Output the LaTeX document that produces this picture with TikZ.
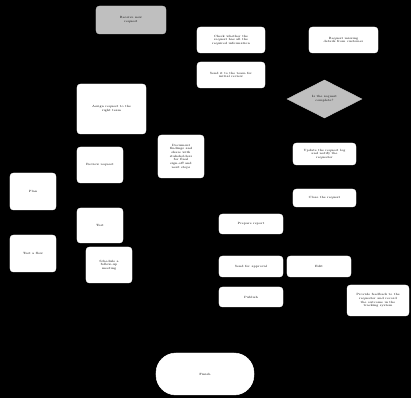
\documentclass[tikz,border=0pt]{standalone}
\usetikzlibrary{shapes.geometric}

\begin{document}
\begin{tikzpicture}[
    x=0.03cm, y=-0.03cm,
    box/.style={rectangle, draw=white, fill=white, rounded corners=3pt, align=center, inner sep=1pt, text=black, font=\fontsize{2.6}{3.1}\selectfont},
    grainy/.style={box, fill=white!75!black, draw=white!75!black},
    choice/.style={diamond, draw=white!75!black, fill=white!75!black, align=center, inner sep=0pt, text=black, font=\fontsize{2.6}{3.1}\selectfont},
    stop/.style={box, rounded corners=0.6cm}
]

% Background
\fill[black] (0,0) rectangle (411,398);
\useasboundingbox (0,0) rectangle (411,398);

% Top row
\node[grainy, minimum width=2.1cm, minimum height=0.84cm] (start) at (131,20) {Receive new\\request};
\node[box, minimum width=2.04cm, minimum height=0.78cm] (check) at (231,40) {Check whether the\\request has all the\\required information};
\node[box, minimum width=2.07cm, minimum height=0.78cm] (missing) at (343.5,40) {Request missing\\details from customer};
\node[box, minimum width=2.04cm, minimum height=0.78cm] (send) at (231,75) {Send it to the team for\\initial review};

% Decision
\node[choice, minimum width=2.25cm, minimum height=1.14cm] (complete) at (324.5,99) {Is the request\\complete?};

% Middle
\node[box, minimum width=2.07cm, minimum height=1.5cm] (assign) at (111.5,109) {Assign request to the\\right team};
\node[box, minimum width=1.38cm, minimum height=1.08cm] (review) at (100,165) {Review request};
\node[box, minimum width=1.38cm, minimum height=1.29cm] (findings) at (181,156.5) {Document\\findings and\\share with\\stakeholders\\for final\\sign-off and\\next steps};
\node[box, minimum width=1.89cm, minimum height=0.66cm] (update) at (324.5,154) {Update the request log\\and notify the\\requester};
\node[box, minimum width=1.89cm, minimum height=0.54cm] (close) at (324.5,198) {Close the request};

% Left column
\node[box, minimum width=1.38cm, minimum height=1.11cm] (plan) at (33,191.5) {Plan};
\node[box, minimum width=1.38cm, minimum height=1.11cm] (flow) at (33,253.5) {Test a flow};
\node[box, minimum width=1.38cm, minimum height=1.05cm] (test) at (100,225.5) {Test};
\node[box, minimum width=1.38cm, minimum height=1.08cm] (meeting) at (109,265) {Schedule a\\follow-up\\meeting};

% Lower right
\node[box, minimum width=1.92cm, minimum height=0.6cm] (report) at (251,224) {Prepare report};
\node[box, minimum width=1.92cm, minimum height=0.63cm] (approval) at (251,266.5) {Send for approval};
\node[box, minimum width=1.92cm, minimum height=0.63cm] (edit) at (319,266.5) {Edit};
\node[box, minimum width=1.92cm, minimum height=0.6cm] (publish) at (251,297) {Publish};
\node[box, minimum width=1.86cm, minimum height=0.93cm] (feedback) at (378,300.5) {Provide feedback to the\\requester and record\\the outcome in the\\tracking system};

% End
\node[stop, minimum width=2.94cm, minimum height=1.26cm] (finish) at (205,374) {Finish};

\end{tikzpicture}
\end{document}
